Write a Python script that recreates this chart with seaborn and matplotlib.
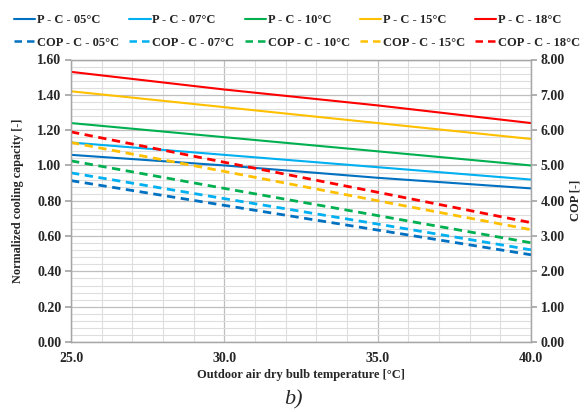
import numpy as np
import pandas as pd
import matplotlib
matplotlib.use("Agg")
import matplotlib.pyplot as plt
from matplotlib.lines import Line2D
from matplotlib.ticker import MultipleLocator, FormatStrFormatter
import seaborn as sns

sns.set_theme(style="white")
plt.rcParams['font.family'] = ['Liberation Serif', 'DejaVu Serif']

# ---- data ----
temps = [25.0, 30.0, 35.0, 40.0]
setpoints = ["05", "07", "10", "15", "18"]
colors = ["#0070C0", "#00B0F0", "#00B050", "#FFC000", "#FF0000"]

cap_05 = [1.06, 1.00, 0.93, 0.87]
cap_07 = [1.13, 1.06, 0.99, 0.92]
cap_10 = [1.24, 1.16, 1.08, 1.00]
cap_15 = [1.42, 1.33, 1.24, 1.15]
cap_18 = [1.53, 1.43, 1.34, 1.24]

cop_05 = [4.57, 3.87, 3.17, 2.47]
cop_07 = [4.79, 4.06, 3.34, 2.61]
cop_10 = [5.13, 4.35, 3.58, 2.81]
cop_15 = [5.65, 4.83, 4.00, 3.18]
cop_18 = [5.95, 5.09, 4.24, 3.38]

caps = [cap_05, cap_07, cap_10, cap_15, cap_18]
cops = [cop_05, cop_07, cop_10, cop_15, cop_18]

rows_cap, rows_cop = [], []
for sp, c, p in zip(setpoints, caps, cops):
    for t, v in zip(temps, c):
        rows_cap.append({"T": t, "val": v, "series": f"P - C - {sp}°C"})
    for t, v in zip(temps, p):
        rows_cop.append({"T": t, "val": v, "series": f"COP - C - {sp}°C"})
df_cap = pd.DataFrame(rows_cap)
df_cop = pd.DataFrame(rows_cop)
cap_names = [f"P - C - {sp}°C" for sp in setpoints]
cop_names = [f"COP - C - {sp}°C" for sp in setpoints]

W, H = 587, 412
fig = plt.figure(figsize=(W / 100, H / 100), dpi=100)
ax = fig.add_axes([71 / W, 1 - 342 / H, 460 / W, 282.5 / H])
ax2 = ax.twinx()

sns.lineplot(data=df_cap, x="T", y="val", hue="series", hue_order=cap_names,
             palette=colors, ax=ax, legend=False, linewidth=1.5)
sns.lineplot(data=df_cop, x="T", y="val", hue="series", hue_order=cop_names,
             palette=colors, ax=ax2, legend=False, linewidth=2.0)
for ln in ax2.get_lines():
    ln.set_linestyle((0, (3, 2)))

ax.set_xlim(25, 40)
ax.set_ylim(0, 1.6)
ax2.set_ylim(0, 8)
ax.xaxis.set_major_locator(MultipleLocator(5))
ax.xaxis.set_minor_locator(MultipleLocator(1))
ax.yaxis.set_major_locator(MultipleLocator(0.2))
ax.yaxis.set_minor_locator(MultipleLocator(0.04))
ax2.yaxis.set_major_locator(MultipleLocator(1))
ax.xaxis.set_major_formatter(FormatStrFormatter("%.1f"))
ax.yaxis.set_major_formatter(FormatStrFormatter("%.2f"))
ax2.yaxis.set_major_formatter(FormatStrFormatter("%.2f"))

ax.grid(which="major", color="#BFBFBF", linewidth=0.9)
ax.grid(which="minor", color="#DEDEDE", linewidth=0.8)
ax.set_axisbelow(True)

for a in (ax, ax2):
    for s in a.spines.values():
        s.set_color("#A6A6A6")
        s.set_linewidth(0.9)
ax.tick_params(axis="both", which="major", direction="out", length=4,
               color="#A6A6A6", labelsize=10, pad=3)
ax.tick_params(axis="both", which="minor", length=0)
ax2.tick_params(axis="y", direction="out", length=4, color="#A6A6A6",
                labelsize=10, pad=3)
for lab in ax.get_xticklabels() + ax.get_yticklabels() + ax2.get_yticklabels():
    lab.set_fontweight("bold")

ax.set_xlabel("Outdoor air dry bulb temperature [°C]", fontsize=9,
              fontweight="bold")
ax.xaxis.set_label_coords(0.5, -(375 - 342) / 282.5)
ax.set_ylabel("Normalized cooling capacity [-]", fontsize=8.8,
              fontweight="bold")
ax.yaxis.set_label_coords(-(71 - 18) / 460, 0.5)
ax2.set_ylabel("COP [-]", fontsize=9, fontweight="bold")
ax2.yaxis.set_label_coords((575 - 71) / 460, 0.5)
ax.xaxis.label.set_va("center")
ax.yaxis.label.set_va("center")
ax2.yaxis.label.set_va("center")

fig.text(0.5, 1 - 400 / H, "b)", fontsize=16, style="italic", ha="center", va="center")

handles, labels = [], []
for sp, col in zip(setpoints, colors):
    handles.append(Line2D([], [], color=col, linewidth=1.5))
    labels.append(f"P - C - {sp}°C")
    handles.append(Line2D([], [], color=col, linewidth=1.8, linestyle=(0, (3, 2))))
    labels.append(f"COP - C - {sp}°C")
fig.legend(handles, labels, ncol=5, loc="upper left", bbox_to_anchor=(14 / W, 1 - 14 / H),
           frameon=False, prop={"weight": "bold", "size": 9},
           handlelength=1.7, handletextpad=0.15, columnspacing=0.8,
           labelspacing=0.85, borderaxespad=0, borderpad=0)

fig.savefig("out.png", dpi=100)
